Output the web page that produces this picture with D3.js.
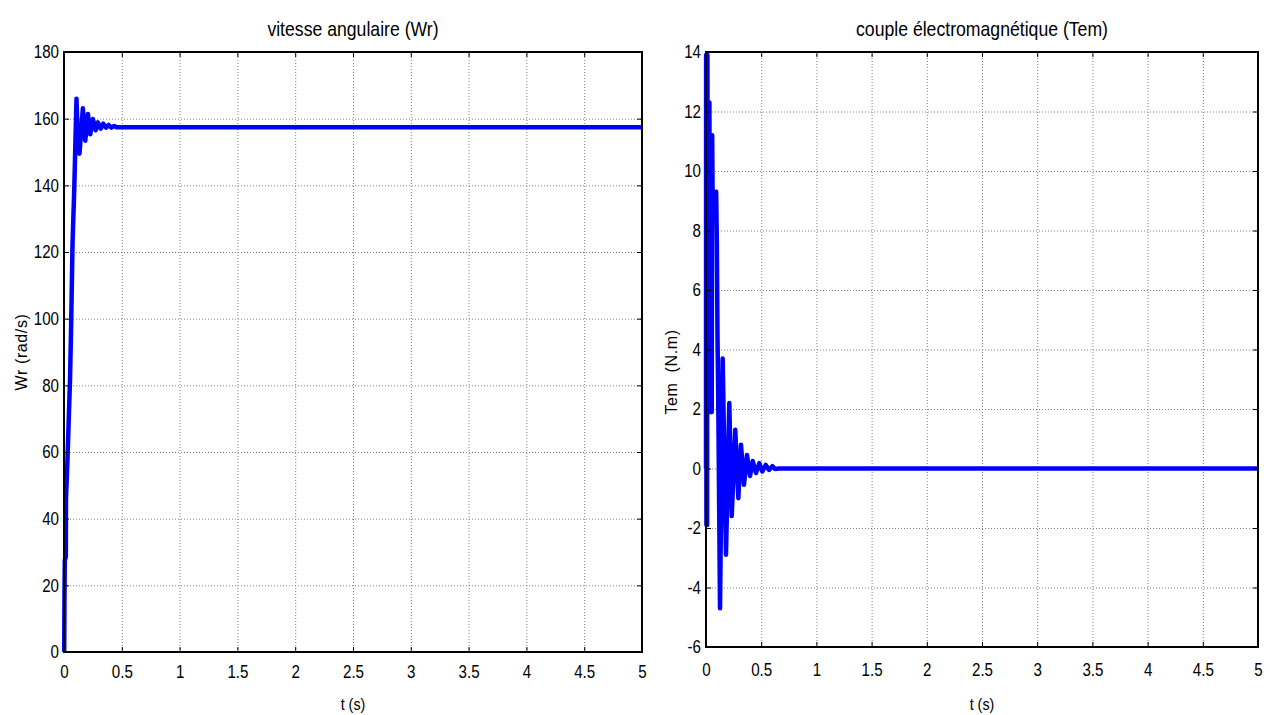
<!DOCTYPE html>
<html>
<head>
<meta charset="utf-8">
<script src="https://cdn.jsdelivr.net/npm/d3@7"></script>
<style>
  body { margin: 0; background: #fff; }
  svg { display: block; }
  .tick text { font-family: "Liberation Sans", Arial, sans-serif; font-size: 18px; fill: #000; }
  .grid line { stroke: #808080; stroke-width: 1; stroke-dasharray: 1,2; }
  .grid path { display: none; }
  .title, .xlabel { font-family: "Liberation Sans", Arial, sans-serif; fill: #000; }
  .ylabel { font-family: "Liberation Sans", Arial, sans-serif; fill: #000; white-space: pre; }
</style>
</head>
<body>
<svg id="chart" width="1270" height="715"></svg>
<script>
// x ticks shared by both panels
const xTicks = [0, 0.5, 1, 1.5, 2, 2.5, 3, 3.5, 4, 4.5, 5];
const xTickLabels = ["0", "0.5", "1", "1.5", "2", "2.5", "3", "3.5", "4", "4.5", "5"];

// Left panel: angular speed Wr (rad/s), vertices
const wrTicks = [0, 20, 40, 60, 80, 100, 120, 140, 160, 180];
const wrT = [0, 0.002, 0.004, 0.007, 0.016, 0.017, 0.030, 0.039, 0.052, 0.061, 0.074, 0.088, 0.095,
             0.108, 0.122, 0.134, 0.163, 0.184, 0.207, 0.227, 0.250, 0.273, 0.293, 0.317, 0.340,
             0.364, 0.386, 0.410, 0.434, 0.460, 5];
const wrV = [0, 0.6, 15.6, 27.6, 28.5, 45.6, 57.6, 67.5, 81.6, 96.6, 122.7, 138, 147.6,
             166.0, 151, 149.5, 163.1, 153.4, 161.4, 155.3, 159.9, 156.5, 158.9, 157.0, 158.5,
             157.3, 158.1, 157.3, 157.8, 157.4, 157.4];

// Right panel: electromagnetic torque Tem (N.m)
const temTicks = [-6, -4, -2, 0, 2, 4, 6, 8, 10, 12, 14];
const temT = [0, 0.001, 0.004, 0.007, 0.010, 0.013, 0.016, 0.019, 0.022, 0.025, 0.028, 0.031, 0.034,
              0.037, 0.040, 0.043, 0.046, 0.049, 0.052, 0.056, 0.060, 0.064, 0.068, 0.072, 0.076,
              0.080, 0.085, 0.092, 0.098, 0.104, 0.110, 0.127, 0.151, 0.181, 0.211, 0.233, 0.265,
              0.293, 0.317, 0.344, 0.371, 0.399, 0.423, 0.453, 0.483, 0.510, 0.541, 0.571, 0.601,
              0.625, 0.655, 5];
const temV = [0, 13.9, -1.9, 13.9, -1.9, 13.9, 1.9, 12.3, 1.9, 12.3, 1.9, 12.3, 1.9,
              11.2, 1.9, 11.2, 1.9, 11.2, 1.9, 11.2, 9.0, 9.3, 8.8, 9.3, 8.8,
              9.3, 8.9, 9.3, 7.7, 4.5, 2.7, -4.7, 3.7, -2.9, 2.2, -1.6, 1.3,
              -1.0, 0.8, -0.55, 0.45, -0.25, 0.25, -0.15, 0.18, -0.1, 0.12, -0.05, 0.08,
              -0.02, 0, 0];

const svg = d3.select("#chart");

// squeeze text horizontally to mimic a narrow face (no narrow font installed)
function condense(sel, k) {
  sel.each(function () {
    const len = this.getComputedTextLength();
    d3.select(this).attr("textLength", len * k).attr("lengthAdjust", "spacingAndGlyphs");
  });
}

function drawPanel(cfg) {
  const x = d3.scaleLinear().domain([0, 5]).range([cfg.left, cfg.right]);
  const y = d3.scaleLinear().domain(cfg.yDomain).range([cfg.bottom, cfg.top]);
  const w = cfg.right - cfg.left, h = cfg.bottom - cfg.top;
  const g = svg.append("g");

  // grid
  g.append("g").attr("class", "grid")
    .attr("transform", `translate(0,${cfg.bottom})`)
    .call(d3.axisBottom(x).tickValues(xTicks.slice(1, -1)).tickSize(-h).tickFormat(""));
  g.append("g").attr("class", "grid")
    .attr("transform", `translate(${cfg.left},0)`)
    .call(d3.axisLeft(y).tickValues(cfg.yTicks.slice(1, -1)).tickSize(-w).tickFormat(""));

  // data line
  const pts = cfg.t.map((t, i) => [t, cfg.v[i]]);
  g.append("path")
    .datum(pts)
    .attr("fill", "none")
    .attr("stroke", "#0000ff")
    .attr("stroke-width", 4.5)
    .attr("stroke-linejoin", "round")
    .attr("d", d3.line().x(d => x(d[0])).y(d => y(d[1])));

  // axes, ticks inward
  const xb = g.append("g").attr("transform", `translate(0,${cfg.bottom})`)
    .call(d3.axisBottom(x).tickValues(xTicks).tickSize(-5).tickPadding(cfg.xPad)
      .tickFormat((d, i) => xTickLabels[i]));
  const xt = g.append("g").attr("transform", `translate(0,${cfg.top})`)
    .call(d3.axisTop(x).tickValues(xTicks).tickSize(-5).tickFormat(""));
  const yl = g.append("g").attr("transform", `translate(${cfg.left},0)`)
    .call(d3.axisLeft(y).tickValues(cfg.yTicks).tickSize(-5).tickPadding(5)
      .tickFormat(d => String(d)));
  const yr = g.append("g").attr("transform", `translate(${cfg.right},0)`)
    .call(d3.axisRight(y).tickValues(cfg.yTicks).tickSize(-5).tickFormat(""));
  [xb, xt, yl, yr].forEach(a => {
    a.select(".domain").remove();
    a.selectAll(".tick line").attr("stroke", "#000").attr("stroke-width", 1);
  });
  condense(xb.selectAll(".tick text"), 0.84);
  condense(yl.selectAll(".tick text"), 0.84);

  // frame
  g.append("rect")
    .attr("x", cfg.left).attr("y", cfg.top)
    .attr("width", w).attr("height", h)
    .attr("fill", "none").attr("stroke", "#000").attr("stroke-width", 2);

  // texts
  const title = g.append("text").attr("class", "title")
    .attr("x", (cfg.left + cfg.right) / 2).attr("y", 36)
    .attr("text-anchor", "middle").attr("font-size", 21)
    .text(cfg.title);
  const xlab = g.append("text").attr("class", "xlabel")
    .attr("x", (cfg.left + cfg.right) / 2).attr("y", 710)
    .attr("text-anchor", "middle").attr("font-size", 17)
    .text("t (s)");
  condense(title, 0.84);
  condense(xlab, 0.84);
  g.append("text").attr("class", "ylabel")
    .attr("transform", `translate(${cfg.yLabelX},${cfg.yLabelY}) rotate(-90)`)
    .attr("text-anchor", "middle").attr("font-size", 16)
    .attr("letter-spacing", 0.6)
    .text(cfg.yLabel);
}

drawPanel({
  left: 64, right: 642, top: 52, bottom: 652,
  yDomain: [0, 180], yTicks: wrTicks, t: wrT, v: wrV, xPad: 13,
  title: "vitesse angulaire (Wr)", yLabel: "Wr (rad/s)", yLabelX: 27, yLabelY: 352
});

drawPanel({
  left: 706, right: 1258, top: 52, bottom: 647,
  yDomain: [-6, 14], yTicks: temTicks, t: temT, v: temV, xPad: 16,
  title: "couple électromagnétique (Tem)", yLabel: "Tem  (N.m)", yLabelX: 677, yLabelY: 372
});
</script>
</body>
</html>
